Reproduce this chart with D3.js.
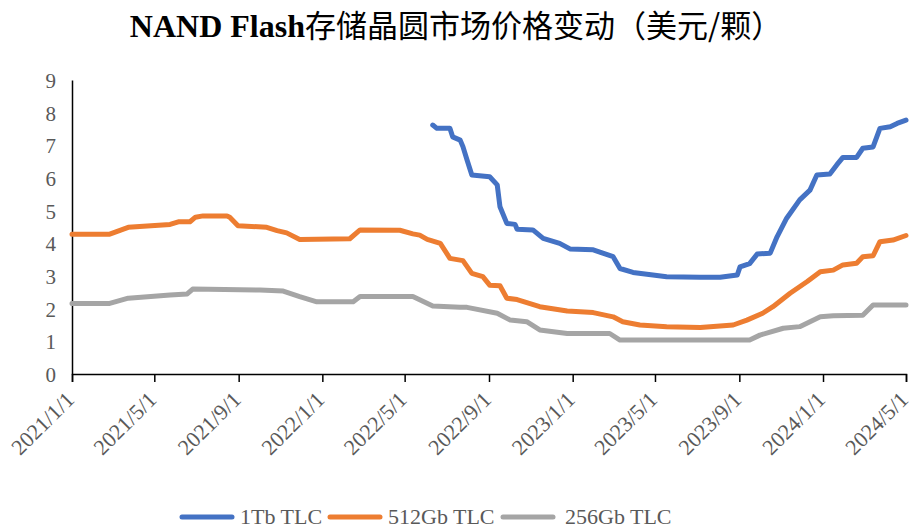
<!DOCTYPE html>
<html><head><meta charset="utf-8">
<script src="https://cdn.jsdelivr.net/npm/d3@7/dist/d3.min.js"></script>
<style>
html,body{margin:0;padding:0;background:#fff;}
svg{display:block;}
</style></head>
<body><svg id="chart" width="912" height="532"></svg>
<script>
const title = "NAND Flash";
const titleRest = "存储晶圆市场价格变动（美元/颗）";
const seriesNames = ["1Tb TLC", "512Gb TLC", "256Gb TLC"];
const seriesColors = ["#4472C4", "#ED7D31", "#A5A5A5"];
const xTickLabels = ["2021/1/1","2021/5/1","2021/9/1","2022/1/1","2022/5/1","2022/9/1","2023/1/1","2023/5/1","2023/9/1","2024/1/1","2024/5/1"];
const yTicks = [0,1,2,3,4,5,6,7,8,9];

const dates1Tb = ["2022-06-11","2022-06-17","2022-07-06","2022-07-10","2022-07-21","2022-07-25","2022-07-31","2022-08-07","2022-09-02","2022-09-13","2022-09-17","2022-09-27","2022-10-09","2022-10-12","2022-11-04","2022-11-19","2022-12-13","2022-12-28","2023-01-31","2023-03-01","2023-03-11","2023-03-30","2023-04-28","2023-05-18","2023-07-06","2023-08-04","2023-08-29","2023-09-02","2023-09-16","2023-09-27","2023-10-16","2023-10-26","2023-11-09","2023-11-28","2023-12-13","2023-12-23","2024-01-11","2024-01-21","2024-01-30","2024-02-19","2024-02-28","2024-03-14","2024-03-24","2024-04-08","2024-04-18","2024-05-01"];
const values1Tb = [7.62,7.52,7.52,7.26,7.16,6.96,6.55,6.09,6.04,5.79,5.12,4.61,4.58,4.43,4.41,4.15,4.0,3.83,3.80,3.59,3.23,3.11,3.03,2.98,2.96,2.96,3.03,3.28,3.38,3.67,3.70,4.20,4.77,5.33,5.63,6.09,6.12,6.40,6.63,6.63,6.91,6.95,7.52,7.57,7.67,7.77];

const dates512 = ["2021-01-01","2021-02-25","2021-03-24","2021-05-24","2021-06-05","2021-06-22","2021-06-30","2021-07-11","2021-08-15","2021-08-19","2021-08-31","2021-10-12","2021-10-27","2021-11-10","2021-11-29","2022-02-10","2022-02-25","2022-04-24","2022-05-13","2022-05-23","2022-06-03","2022-06-22","2022-07-06","2022-07-25","2022-08-07","2022-08-23","2022-09-02","2022-09-17","2022-09-27","2022-10-12","2022-11-14","2022-12-24","2023-01-31","2023-03-01","2023-03-15","2023-04-09","2023-05-18","2023-07-06","2023-08-23","2023-09-12","2023-10-05","2023-10-20","2023-11-14","2023-12-09","2023-12-28","2024-01-16","2024-01-30","2024-02-19","2024-02-28","2024-03-14","2024-03-24","2024-04-12","2024-05-01"];
const values512 = [4.28,4.28,4.49,4.58,4.66,4.66,4.80,4.84,4.84,4.80,4.54,4.49,4.39,4.32,4.12,4.14,4.41,4.40,4.29,4.25,4.12,4.0,3.54,3.47,3.08,2.98,2.72,2.70,2.32,2.28,2.06,1.93,1.88,1.75,1.60,1.50,1.45,1.42,1.50,1.65,1.86,2.06,2.47,2.83,3.13,3.18,3.34,3.39,3.59,3.62,4.05,4.10,4.24];

const dates256 = ["2021-01-01","2021-02-25","2021-03-24","2021-05-24","2021-06-18","2021-06-26","2021-10-02","2021-11-05","2021-11-29","2021-12-24","2022-02-15","2022-02-25","2022-05-13","2022-06-11","2022-07-21","2022-07-31","2022-09-13","2022-10-02","2022-10-26","2022-11-14","2022-12-24","2023-02-24","2023-03-11","2023-09-16","2023-10-01","2023-11-04","2023-11-28","2023-12-28","2024-01-16","2024-02-28","2024-03-14","2024-05-01"];
const values256 = [2.16,2.16,2.32,2.42,2.45,2.60,2.57,2.54,2.37,2.21,2.21,2.37,2.37,2.08,2.04,2.04,1.86,1.65,1.60,1.35,1.24,1.24,1.04,1.04,1.19,1.40,1.45,1.75,1.78,1.80,2.11,2.11];

const parse = d3.timeParse("%Y-%m-%d");
const parseTick = d3.timeParse("%Y/%m/%d");
const series = [
  {name: seriesNames[0], color: seriesColors[0], pts: dates1Tb.map((d,i)=>({d: parse(d), v: values1Tb[i]}))},
  {name: seriesNames[1], color: seriesColors[1], pts: dates512.map((d,i)=>({d: parse(d), v: values512[i]}))},
  {name: seriesNames[2], color: seriesColors[2], pts: dates256.map((d,i)=>({d: parse(d), v: values256[i]}))}
];

const svg = d3.select("#chart");
const plotLeft = 72, plotRight = 906, plotTop = 80, plotBottom = 374;
const tickDates = xTickLabels.map(s => parseTick(s));
const x = d3.scaleTime().domain([tickDates[0], tickDates[tickDates.length-1]]).range([plotLeft, plotRight]);
const y = d3.scaleLinear().domain([0, 9]).range([plotBottom, plotTop]);

const serif = "'Liberation Serif','Times New Roman',serif";
const gray = "#595959";

// title
const t = svg.append("text").attr("x", 456).attr("y", 37).attr("text-anchor", "middle")
  .attr("fill", "#000");
t.append("tspan").text(title).attr("font-family", serif).attr("font-weight", "bold").attr("font-size", 32);
t.append("tspan").text(titleRest).attr("font-family", "'Noto Sans CJK SC',sans-serif").attr("font-size", 31);

// y axis
const yAxis = svg.append("g").attr("transform", `translate(${plotLeft},0)`)
  .call(d3.axisLeft(y).tickValues(yTicks).tickSize(0).tickPadding(16).tickFormat(d3.format("d")));
yAxis.select(".domain").attr("stroke", "#000").attr("stroke-width", 1.5);
yAxis.selectAll("text").attr("font-family", serif).attr("font-size", 21).attr("fill", gray).attr("dy", "0.35em");

// x axis
const xAxis = svg.append("g").attr("transform", `translate(0,${plotBottom})`)
  .call(d3.axisBottom(x).tickValues(tickDates).tickSizeOuter(0).tickSize(8)
    .tickFormat((d,i) => xTickLabels[i]));
xAxis.select(".domain").attr("stroke", "#000").attr("stroke-width", 1.5);
xAxis.selectAll(".tick line").attr("stroke", "#000").attr("stroke-width", 1.5);
xAxis.selectAll("text").attr("font-family", serif).attr("font-size", 22).attr("fill", gray)
  .attr("text-anchor", "end").attr("dy", 0).attr("y", 0)
  .attr("transform", "translate(3,27) rotate(-45)");

// lines
const line = d3.line().x(p => x(p.d)).y(p => y(p.v)).curve(d3.curveLinear);
svg.append("g").selectAll("path").data(series.slice().reverse()).join("path")
  .attr("d", s => line(s.pts)).attr("fill", "none").attr("stroke", s => s.color)
  .attr("stroke-width", 5).attr("stroke-linejoin", "round").attr("stroke-linecap", "round");

// legend
const legX = [182, 330, 503];
const lg = svg.append("g");
series.forEach((s, i) => {
  lg.append("line").attr("x1", legX[i]).attr("x2", legX[i] + 50).attr("y1", 517).attr("y2", 517)
    .attr("stroke", s.color).attr("stroke-width", 5).attr("stroke-linecap", "round");
  lg.append("text").attr("x", legX[i] + 58 + (i === 2 ? 4 : 0)).attr("y", 524).text(s.name)
    .attr("font-family", serif).attr("font-size", 22).attr("fill", gray);
});
</script></body></html>
